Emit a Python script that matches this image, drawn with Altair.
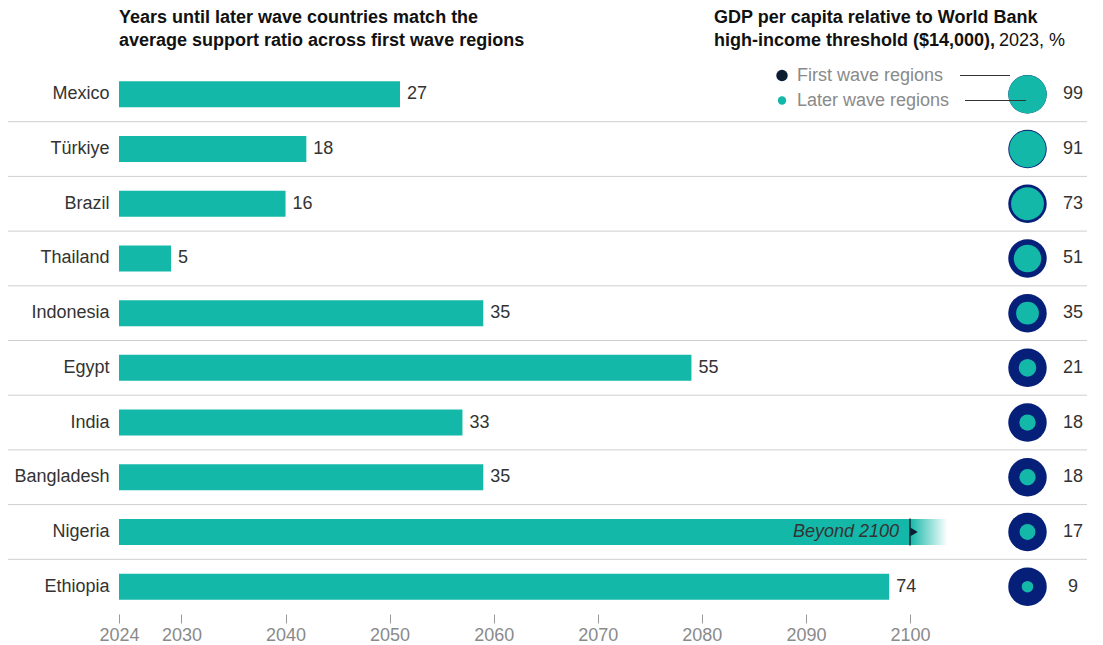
import altair as alt
import pandas as pd

# ---------------- data ----------------
countries = ["Mexico", "Türkiye", "Brazil", "Thailand", "Indonesia",
             "Egypt", "India", "Bangladesh", "Nigeria", "Ethiopia"]
years_to_match = [27, 18, 16, 5, 35, 55, 33, 35, None, 74]   # None = beyond 2100
gdp_pct = [99, 91, 73, 51, 35, 21, 18, 18, 17, 9]
start_year = 2024
cap_year = 2100
x_ticks = [2024, 2030, 2040, 2050, 2060, 2070, 2080, 2090, 2100]

title_left = ["Years until later wave countries match the",
              "average support ratio across first wave regions"]
title_right_1 = "GDP per capita relative to World Bank"
title_right_2b = "high-income threshold ($14,000),"
title_right_2n = "2023, %"
legend_labels = ["First wave regions", "Later wave regions"]
beyond_label = "Beyond 2100"

# ---------------- style ----------------
FONT = "Liberation Sans"
TEAL = "#14B8A9"
NAVY = "#061F78"
DARK = "#0B1D33"
TXT = "#333333"
GREY = "#8a8a8a"
FADE_YEARS = 3.6

rows = []
for c, y, g in zip(countries, years_to_match, gdp_pct):
    beyond = y is None
    rows.append(dict(country=c, start=start_year,
                     end=cap_year if beyond else start_year + y,
                     label="" if beyond else str(y),
                     gdp=g, gdp_label=str(g), beyond=beyond))
df = pd.DataFrame(rows)

y_scale = alt.Scale(domain=countries, paddingInner=0, paddingOuter=0)
y_axis = alt.Axis(title=None, domain=False, ticks=False, labelPadding=10,
                  labelFontSize=18, labelColor=TXT, labelFont=FONT)
y_enc = alt.Y("country:N", scale=y_scale, axis=y_axis)
x_scale = alt.Scale(domain=[start_year, cap_year], nice=False, zero=False)
x_axis = alt.Axis(values=x_ticks, format="d", title=None, domain=False, grid=False,
                  tickColor="#9a9a9a", tickSize=9, offset=0, labelPadding=3,
                  labelFlush=False, labelOverlap=False,
                  labelFontSize=18, labelColor=GREY, labelFont=FONT)
x_enc = alt.X("end:Q", scale=x_scale, axis=x_axis)

base = alt.Chart(df)

separators = alt.Chart(df[df.country != countries[0]]).mark_rule(
    color="#cfcfcf", strokeWidth=1).encode(
    y=alt.Y("country:N", scale=y_scale, axis=y_axis, bandPosition=0),
    x=alt.value(-111), x2=alt.value(968))

bars = base.mark_bar(height=26, color=TEAL).encode(
    x=alt.X("start:Q", scale=x_scale, axis=x_axis), x2="end:Q", y=y_enc)

bar_labels = base.transform_filter("!datum.beyond").mark_text(
    align="left", dx=7, fontSize=18, color=TXT, font=FONT).encode(
    x=x_enc, y=y_enc, text="label:N")

beyond_df = df[df.beyond].copy()
beyond_df["fade_end"] = beyond_df["end"] + FADE_YEARS
beyond_df["txt"] = beyond_label
bchart = alt.Chart(beyond_df)

fade = bchart.mark_bar(height=26, color=alt.Gradient(
    gradient="linear",
    stops=[alt.GradientStop(color=TEAL, offset=0), alt.GradientStop(color="#ffffff", offset=1)],
    x1=0, x2=1, y1=0, y2=0)).encode(
    x=x_enc, x2="fade_end:Q", y=y_enc)

cap_tick = bchart.mark_tick(color=DARK, size=27, thickness=2).encode(x=x_enc, y=y_enc)
cap_tri = bchart.mark_point(shape="triangle-right", filled=True, size=75, color=DARK,
                            opacity=1, xOffset=4).encode(x=x_enc, y=y_enc)
beyond_txt = bchart.mark_text(align="right", dx=-11, fontSize=18, fontStyle="italic",
                              color=TXT, font=FONT).encode(x=x_enc, y=y_enc, text="txt:N")

OUTER = 1480
outer = base.mark_circle(size=OUTER, color=NAVY, opacity=1).encode(
    x=alt.value(908.5), y=y_enc)
inner = base.mark_circle(color=TEAL, opacity=1).encode(
    x=alt.value(908.5), y=y_enc,
    size=alt.Size("gdp:Q", scale=alt.Scale(domain=[0, 100], range=[0, OUTER]), legend=None))
gdp_labels = base.mark_text(align="center", fontSize=18, color=TXT, font=FONT).encode(
    x=alt.value(954), y=y_enc, text="gdp_label:N")

# titles
tl = alt.Chart(pd.DataFrame({"t": title_left, "yy": [-44, -21]})).mark_text(
    align="left", baseline="alphabetic", fontSize=18, fontWeight="bold",
    color="#111111", font=FONT).encode(x=alt.value(0), y=alt.Y("yy:Q", scale=None), text="t:N")
tr1 = alt.Chart(pd.DataFrame({"t": [title_right_1]})).mark_text(
    align="left", baseline="alphabetic", fontSize=18, fontWeight="bold",
    color="#111111", font=FONT).encode(x=alt.value(595), y=alt.value(-44), text="t:N")
tr2 = alt.Chart(pd.DataFrame({"t": [title_right_2b]})).mark_text(
    align="left", baseline="alphabetic", fontSize=18, fontWeight="bold",
    color="#111111", font=FONT).encode(x=alt.value(595), y=alt.value(-21), text="t:N")
tr3 = alt.Chart(pd.DataFrame({"t": [title_right_2n]})).mark_text(
    align="left", baseline="alphabetic", fontSize=18,
    color="#111111", font=FONT).encode(x=alt.value(880), y=alt.value(-21), text="t:N")

# legend
leg = pd.DataFrame({"lab": legend_labels, "yy": [8.5, 33.5], "col": [DARK, TEAL],
                    "sz": [130, 70], "lx1": [841, 846], "lx2": [891, 907]})
lchart = alt.Chart(leg)
leg_dots = lchart.mark_circle(opacity=1).encode(
    x=alt.value(663), y=alt.Y("yy:Q", scale=None),
    color=alt.Color("col:N", scale=None), size=alt.Size("sz:Q", scale=None))
leg_text = lchart.mark_text(align="left", baseline="middle", fontSize=18, color=GREY,
                            font=FONT).encode(
    x=alt.value(678), y=alt.Y("yy:Q", scale=None), text="lab:N")
leg_lines = lchart.mark_rule(color="#333333", strokeWidth=1).encode(
    x=alt.X("lx1:Q", scale=None), x2="lx2:Q", y=alt.Y("yy:Q", scale=None))

chart = alt.layer(
    separators, bars, fade, cap_tick, cap_tri, beyond_txt, bar_labels,
    outer, inner, gdp_labels, tl, tr1, tr2, tr3, leg_lines, leg_dots, leg_text
).properties(
    width=791, height=547,
    autosize=alt.AutoSizeParams(type="none"),
    padding={"left": 111, "top": 59, "right": 185, "bottom": 31}
).configure_view(stroke=None).configure_text(font=FONT)

chart.save("out.html", embed_options={"renderer": "svg", "actions": False})
